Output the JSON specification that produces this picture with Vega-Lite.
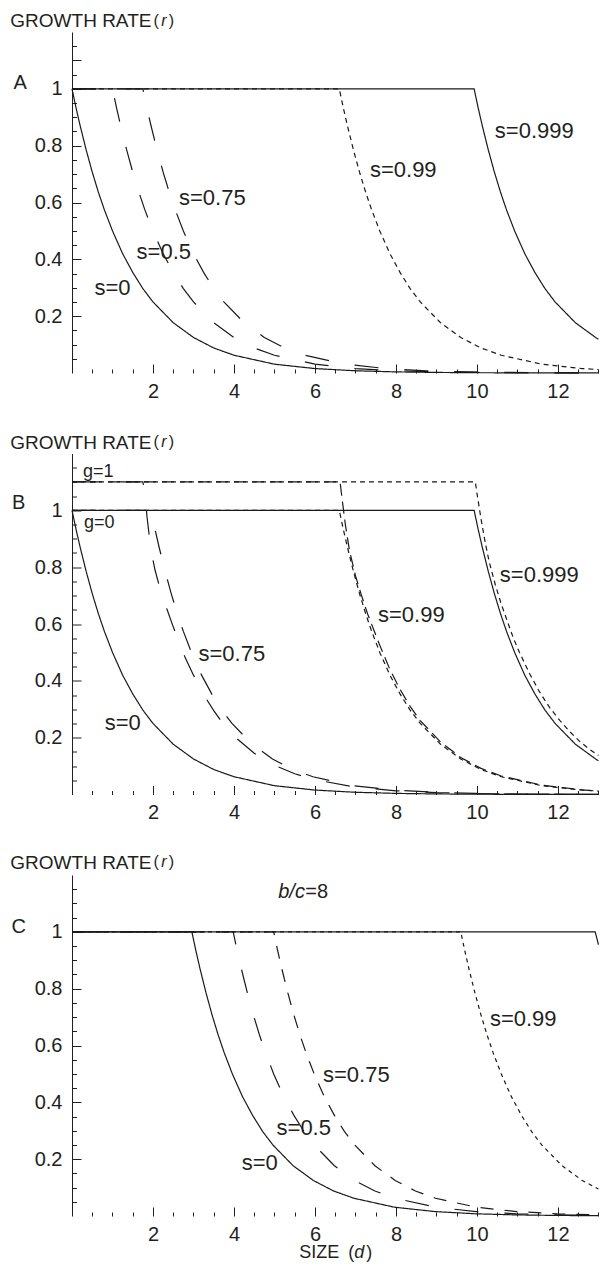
{
"$schema": "https://vega.github.io/schema/vega-lite/v6.json",
"padding": {"left": 10, "top": 12, "right": 0, "bottom": 0},
"bounds": "flush",
"spacing": 80.5,
"config": {"view": {"stroke": null}, "font": "Liberation Sans",
 "axis": {"labelFont": "Liberation Sans", "labelColor": "#231f20", "tickColor": "#231f20", "domainColor": "#231f20", "labelFontSize": 20, "grid": false, "tickWidth": 1, "domainWidth": 1, "labelOverlap": false, "labelFlush": false},
 "text": {"font": "Liberation Sans", "color": "#231f20"}},
"resolve": {"scale": {"strokeDash": "independent"}},
"datasets": {
"curves": [
{"p":"A","c":"s=0","x":0,"y":1},{"p":"A","c":"s=0","x":0.1,"y":0.933},{"p":"A","c":"s=0","x":0.2,"y":0.871},{"p":"A","c":"s=0","x":0.35,"y":0.785},{"p":"A","c":"s=0","x":0.5,"y":0.707},{"p":"A","c":"s=0","x":0.65,"y":0.637},{"p":"A","c":"s=0","x":0.8,"y":0.574},{"p":"A","c":"s=0","x":1,"y":0.5},{"p":"A","c":"s=0","x":1.25,"y":0.42},{"p":"A","c":"s=0","x":1.5,"y":0.354},{"p":"A","c":"s=0","x":1.75,"y":0.297},{"p":"A","c":"s=0","x":2,"y":0.25},{"p":"A","c":"s=0","x":2.5,"y":0.177},{"p":"A","c":"s=0","x":3,"y":0.125},{"p":"A","c":"s=0","x":3.5,"y":0.088},{"p":"A","c":"s=0","x":4,"y":0.0625},{"p":"A","c":"s=0","x":5,"y":0.031},{"p":"A","c":"s=0","x":6,"y":0.0156},{"p":"A","c":"s=0","x":7,"y":0.0078},{"p":"A","c":"s=0","x":8,"y":0.0039},{"p":"A","c":"s=0","x":9,"y":0.002},{"p":"A","c":"s=0","x":10,"y":0.001},{"p":"A","c":"s=0","x":11,"y":0.0005},{"p":"A","c":"s=0","x":12,"y":0.0002},{"p":"A","c":"s=0","x":13,"y":0.0001},
{"p":"A","c":"s=0.5","x":0,"y":1},{"p":"A","c":"s=0.5","x":1,"y":1},{"p":"A","c":"s=0.5","x":1.1,"y":0.933},{"p":"A","c":"s=0.5","x":1.2,"y":0.871},{"p":"A","c":"s=0.5","x":1.35,"y":0.785},{"p":"A","c":"s=0.5","x":1.5,"y":0.707},{"p":"A","c":"s=0.5","x":1.65,"y":0.637},{"p":"A","c":"s=0.5","x":1.8,"y":0.574},{"p":"A","c":"s=0.5","x":2,"y":0.5},{"p":"A","c":"s=0.5","x":2.25,"y":0.42},{"p":"A","c":"s=0.5","x":2.5,"y":0.354},{"p":"A","c":"s=0.5","x":2.75,"y":0.297},{"p":"A","c":"s=0.5","x":3,"y":0.25},{"p":"A","c":"s=0.5","x":3.5,"y":0.177},{"p":"A","c":"s=0.5","x":4,"y":0.125},{"p":"A","c":"s=0.5","x":4.5,"y":0.088},{"p":"A","c":"s=0.5","x":5,"y":0.0625},{"p":"A","c":"s=0.5","x":6,"y":0.031},{"p":"A","c":"s=0.5","x":7,"y":0.0156},{"p":"A","c":"s=0.5","x":8,"y":0.0078},{"p":"A","c":"s=0.5","x":9,"y":0.0039},{"p":"A","c":"s=0.5","x":10,"y":0.002},{"p":"A","c":"s=0.5","x":11,"y":0.001},{"p":"A","c":"s=0.5","x":13,"y":0.0003},
{"p":"A","c":"s=0.75","x":0,"y":1},{"p":"A","c":"s=0.75","x":1.75,"y":1},{"p":"A","c":"s=0.75","x":1.85,"y":0.933},{"p":"A","c":"s=0.75","x":1.95,"y":0.871},{"p":"A","c":"s=0.75","x":2.1,"y":0.785},{"p":"A","c":"s=0.75","x":2.25,"y":0.707},{"p":"A","c":"s=0.75","x":2.4,"y":0.637},{"p":"A","c":"s=0.75","x":2.55,"y":0.574},{"p":"A","c":"s=0.75","x":2.75,"y":0.5},{"p":"A","c":"s=0.75","x":3,"y":0.42},{"p":"A","c":"s=0.75","x":3.25,"y":0.354},{"p":"A","c":"s=0.75","x":3.5,"y":0.297},{"p":"A","c":"s=0.75","x":3.75,"y":0.25},{"p":"A","c":"s=0.75","x":4.25,"y":0.177},{"p":"A","c":"s=0.75","x":4.75,"y":0.125},{"p":"A","c":"s=0.75","x":5.25,"y":0.088},{"p":"A","c":"s=0.75","x":5.75,"y":0.0625},{"p":"A","c":"s=0.75","x":6.75,"y":0.031},{"p":"A","c":"s=0.75","x":7.75,"y":0.0156},{"p":"A","c":"s=0.75","x":8.75,"y":0.0078},{"p":"A","c":"s=0.75","x":9.75,"y":0.0039},{"p":"A","c":"s=0.75","x":10.75,"y":0.002},{"p":"A","c":"s=0.75","x":11.75,"y":0.001},{"p":"A","c":"s=0.75","x":13,"y":0.0004},
{"p":"A","c":"s=0.99","x":0,"y":1},{"p":"A","c":"s=0.99","x":6.6,"y":1},{"p":"A","c":"s=0.99","x":6.7,"y":0.933},{"p":"A","c":"s=0.99","x":6.8,"y":0.871},{"p":"A","c":"s=0.99","x":6.95,"y":0.785},{"p":"A","c":"s=0.99","x":7.1,"y":0.707},{"p":"A","c":"s=0.99","x":7.25,"y":0.637},{"p":"A","c":"s=0.99","x":7.4,"y":0.574},{"p":"A","c":"s=0.99","x":7.6,"y":0.5},{"p":"A","c":"s=0.99","x":7.85,"y":0.42},{"p":"A","c":"s=0.99","x":8.1,"y":0.354},{"p":"A","c":"s=0.99","x":8.35,"y":0.297},{"p":"A","c":"s=0.99","x":8.6,"y":0.25},{"p":"A","c":"s=0.99","x":9.1,"y":0.177},{"p":"A","c":"s=0.99","x":9.6,"y":0.125},{"p":"A","c":"s=0.99","x":10.1,"y":0.088},{"p":"A","c":"s=0.99","x":10.6,"y":0.0625},{"p":"A","c":"s=0.99","x":11.6,"y":0.031},{"p":"A","c":"s=0.99","x":12.6,"y":0.0156},{"p":"A","c":"s=0.99","x":13,"y":0.012},
{"p":"A","c":"s=0.999","x":0,"y":1},{"p":"A","c":"s=0.999","x":9.93,"y":1},{"p":"A","c":"s=0.999","x":10.03,"y":0.933},{"p":"A","c":"s=0.999","x":10.13,"y":0.871},{"p":"A","c":"s=0.999","x":10.28,"y":0.785},{"p":"A","c":"s=0.999","x":10.43,"y":0.707},{"p":"A","c":"s=0.999","x":10.58,"y":0.637},{"p":"A","c":"s=0.999","x":10.73,"y":0.574},{"p":"A","c":"s=0.999","x":10.93,"y":0.5},{"p":"A","c":"s=0.999","x":11.18,"y":0.42},{"p":"A","c":"s=0.999","x":11.43,"y":0.354},{"p":"A","c":"s=0.999","x":11.68,"y":0.297},{"p":"A","c":"s=0.999","x":11.93,"y":0.25},{"p":"A","c":"s=0.999","x":12.43,"y":0.177},{"p":"A","c":"s=0.999","x":12.93,"y":0.125},{"p":"A","c":"s=0.999","x":13,"y":0.119},
{"p":"B","c":"s=0","x":0,"y":1},{"p":"B","c":"s=0","x":0.1,"y":0.933},{"p":"B","c":"s=0","x":0.2,"y":0.871},{"p":"B","c":"s=0","x":0.35,"y":0.785},{"p":"B","c":"s=0","x":0.5,"y":0.707},{"p":"B","c":"s=0","x":0.65,"y":0.637},{"p":"B","c":"s=0","x":0.8,"y":0.574},{"p":"B","c":"s=0","x":1,"y":0.5},{"p":"B","c":"s=0","x":1.25,"y":0.42},{"p":"B","c":"s=0","x":1.5,"y":0.354},{"p":"B","c":"s=0","x":1.75,"y":0.297},{"p":"B","c":"s=0","x":2,"y":0.25},{"p":"B","c":"s=0","x":2.5,"y":0.177},{"p":"B","c":"s=0","x":3,"y":0.125},{"p":"B","c":"s=0","x":3.5,"y":0.088},{"p":"B","c":"s=0","x":4,"y":0.0625},{"p":"B","c":"s=0","x":5,"y":0.031},{"p":"B","c":"s=0","x":6,"y":0.0156},{"p":"B","c":"s=0","x":7,"y":0.0078},{"p":"B","c":"s=0","x":8,"y":0.0039},{"p":"B","c":"s=0","x":9,"y":0.002},{"p":"B","c":"s=0","x":10,"y":0.001},{"p":"B","c":"s=0","x":11,"y":0.0005},{"p":"B","c":"s=0","x":12,"y":0.0002},{"p":"B","c":"s=0","x":13,"y":0.0001},
{"p":"B","c":"s=0.75 g=0","x":0,"y":1},{"p":"B","c":"s=0.75 g=0","x":1.95,"y":1},{"p":"B","c":"s=0.75 g=0","x":2.05,"y":0.933},{"p":"B","c":"s=0.75 g=0","x":2.15,"y":0.871},{"p":"B","c":"s=0.75 g=0","x":2.3,"y":0.785},{"p":"B","c":"s=0.75 g=0","x":2.45,"y":0.707},{"p":"B","c":"s=0.75 g=0","x":2.6,"y":0.637},{"p":"B","c":"s=0.75 g=0","x":2.75,"y":0.574},{"p":"B","c":"s=0.75 g=0","x":2.95,"y":0.5},{"p":"B","c":"s=0.75 g=0","x":3.2,"y":0.42},{"p":"B","c":"s=0.75 g=0","x":3.45,"y":0.354},{"p":"B","c":"s=0.75 g=0","x":3.7,"y":0.297},{"p":"B","c":"s=0.75 g=0","x":3.95,"y":0.25},{"p":"B","c":"s=0.75 g=0","x":4.45,"y":0.177},{"p":"B","c":"s=0.75 g=0","x":4.95,"y":0.125},{"p":"B","c":"s=0.75 g=0","x":5.45,"y":0.088},{"p":"B","c":"s=0.75 g=0","x":5.95,"y":0.0625},{"p":"B","c":"s=0.75 g=0","x":6.95,"y":0.031},{"p":"B","c":"s=0.75 g=0","x":7.95,"y":0.0156},{"p":"B","c":"s=0.75 g=0","x":8.95,"y":0.0078},{"p":"B","c":"s=0.75 g=0","x":9.95,"y":0.0039},{"p":"B","c":"s=0.75 g=0","x":10.95,"y":0.002},{"p":"B","c":"s=0.75 g=0","x":11.95,"y":0.001},{"p":"B","c":"s=0.75 g=0","x":13,"y":0.0005},
{"p":"B","c":"s=0.75 g=1","x":0,"y":1.1},{"p":"B","c":"s=0.75 g=1","x":1.75,"y":1.1},{"p":"B","c":"s=0.75 g=1","x":1.8,"y":1.06},{"p":"B","c":"s=0.75 g=1","x":1.85,"y":0.98},{"p":"B","c":"s=0.75 g=1","x":1.95,"y":0.86},{"p":"B","c":"s=0.75 g=1","x":2.05,"y":0.79},{"p":"B","c":"s=0.75 g=1","x":2.2,"y":0.71},{"p":"B","c":"s=0.75 g=1","x":2.35,"y":0.65},{"p":"B","c":"s=0.75 g=1","x":2.5,"y":0.59},{"p":"B","c":"s=0.75 g=1","x":2.65,"y":0.535},{"p":"B","c":"s=0.75 g=1","x":2.8,"y":0.48},{"p":"B","c":"s=0.75 g=1","x":3,"y":0.42},{"p":"B","c":"s=0.75 g=1","x":3.25,"y":0.352},{"p":"B","c":"s=0.75 g=1","x":3.5,"y":0.295},{"p":"B","c":"s=0.75 g=1","x":3.75,"y":0.245},{"p":"B","c":"s=0.75 g=1","x":4,"y":0.205},{"p":"B","c":"s=0.75 g=1","x":4.5,"y":0.145},{"p":"B","c":"s=0.75 g=1","x":5,"y":0.103},{"p":"B","c":"s=0.75 g=1","x":5.5,"y":0.073},{"p":"B","c":"s=0.75 g=1","x":6,"y":0.052},{"p":"B","c":"s=0.75 g=1","x":7,"y":0.026},{"p":"B","c":"s=0.75 g=1","x":8,"y":0.013},{"p":"B","c":"s=0.75 g=1","x":9,"y":0.0065},{"p":"B","c":"s=0.75 g=1","x":10,"y":0.0033},{"p":"B","c":"s=0.75 g=1","x":11,"y":0.0016},{"p":"B","c":"s=0.75 g=1","x":13,"y":0.0004},
{"p":"B","c":"s=0.99 g=0","x":0,"y":1},{"p":"B","c":"s=0.99 g=0","x":6.6,"y":1},{"p":"B","c":"s=0.99 g=0","x":6.7,"y":0.933},{"p":"B","c":"s=0.99 g=0","x":6.8,"y":0.871},{"p":"B","c":"s=0.99 g=0","x":6.95,"y":0.785},{"p":"B","c":"s=0.99 g=0","x":7.1,"y":0.707},{"p":"B","c":"s=0.99 g=0","x":7.25,"y":0.637},{"p":"B","c":"s=0.99 g=0","x":7.4,"y":0.574},{"p":"B","c":"s=0.99 g=0","x":7.6,"y":0.5},{"p":"B","c":"s=0.99 g=0","x":7.85,"y":0.42},{"p":"B","c":"s=0.99 g=0","x":8.1,"y":0.354},{"p":"B","c":"s=0.99 g=0","x":8.35,"y":0.297},{"p":"B","c":"s=0.99 g=0","x":8.6,"y":0.25},{"p":"B","c":"s=0.99 g=0","x":9.1,"y":0.177},{"p":"B","c":"s=0.99 g=0","x":9.6,"y":0.125},{"p":"B","c":"s=0.99 g=0","x":10.1,"y":0.088},{"p":"B","c":"s=0.99 g=0","x":10.6,"y":0.0625},{"p":"B","c":"s=0.99 g=0","x":11.6,"y":0.031},{"p":"B","c":"s=0.99 g=0","x":12.6,"y":0.0156},{"p":"B","c":"s=0.99 g=0","x":13,"y":0.012},
{"p":"B","c":"s=0.99 g=1","x":0,"y":1.1},{"p":"B","c":"s=0.99 g=1","x":6.62,"y":1.1},{"p":"B","c":"s=0.99 g=1","x":6.67,"y":1.04},{"p":"B","c":"s=0.99 g=1","x":6.75,"y":0.95},{"p":"B","c":"s=0.99 g=1","x":6.85,"y":0.86},{"p":"B","c":"s=0.99 g=1","x":7,"y":0.77},{"p":"B","c":"s=0.99 g=1","x":7.15,"y":0.7},{"p":"B","c":"s=0.99 g=1","x":7.3,"y":0.635},{"p":"B","c":"s=0.99 g=1","x":7.45,"y":0.58},{"p":"B","c":"s=0.99 g=1","x":7.6,"y":0.525},{"p":"B","c":"s=0.99 g=1","x":7.85,"y":0.44},{"p":"B","c":"s=0.99 g=1","x":8.1,"y":0.37},{"p":"B","c":"s=0.99 g=1","x":8.35,"y":0.31},{"p":"B","c":"s=0.99 g=1","x":8.6,"y":0.26},{"p":"B","c":"s=0.99 g=1","x":9.1,"y":0.185},{"p":"B","c":"s=0.99 g=1","x":9.6,"y":0.13},{"p":"B","c":"s=0.99 g=1","x":10.1,"y":0.092},{"p":"B","c":"s=0.99 g=1","x":10.6,"y":0.065},{"p":"B","c":"s=0.99 g=1","x":11.6,"y":0.033},{"p":"B","c":"s=0.99 g=1","x":12.6,"y":0.016},{"p":"B","c":"s=0.99 g=1","x":13,"y":0.012},
{"p":"B","c":"s=0.999 g=0","x":0,"y":1},{"p":"B","c":"s=0.999 g=0","x":9.93,"y":1},{"p":"B","c":"s=0.999 g=0","x":10.03,"y":0.933},{"p":"B","c":"s=0.999 g=0","x":10.13,"y":0.871},{"p":"B","c":"s=0.999 g=0","x":10.28,"y":0.785},{"p":"B","c":"s=0.999 g=0","x":10.43,"y":0.707},{"p":"B","c":"s=0.999 g=0","x":10.58,"y":0.637},{"p":"B","c":"s=0.999 g=0","x":10.73,"y":0.574},{"p":"B","c":"s=0.999 g=0","x":10.93,"y":0.5},{"p":"B","c":"s=0.999 g=0","x":11.18,"y":0.42},{"p":"B","c":"s=0.999 g=0","x":11.43,"y":0.354},{"p":"B","c":"s=0.999 g=0","x":11.68,"y":0.297},{"p":"B","c":"s=0.999 g=0","x":11.93,"y":0.25},{"p":"B","c":"s=0.999 g=0","x":12.43,"y":0.177},{"p":"B","c":"s=0.999 g=0","x":12.93,"y":0.125},{"p":"B","c":"s=0.999 g=0","x":13,"y":0.119},
{"p":"B","c":"s=0.999 g=1","x":0,"y":1.1},{"p":"B","c":"s=0.999 g=1","x":9.96,"y":1.1},{"p":"B","c":"s=0.999 g=1","x":10,"y":1.06},{"p":"B","c":"s=0.999 g=1","x":10.1,"y":0.97},{"p":"B","c":"s=0.999 g=1","x":10.2,"y":0.89},{"p":"B","c":"s=0.999 g=1","x":10.3,"y":0.82},{"p":"B","c":"s=0.999 g=1","x":10.45,"y":0.74},{"p":"B","c":"s=0.999 g=1","x":10.6,"y":0.67},{"p":"B","c":"s=0.999 g=1","x":10.75,"y":0.61},{"p":"B","c":"s=0.999 g=1","x":10.9,"y":0.55},{"p":"B","c":"s=0.999 g=1","x":11.05,"y":0.5},{"p":"B","c":"s=0.999 g=1","x":11.3,"y":0.425},{"p":"B","c":"s=0.999 g=1","x":11.55,"y":0.36},{"p":"B","c":"s=0.999 g=1","x":11.8,"y":0.305},{"p":"B","c":"s=0.999 g=1","x":12.05,"y":0.26},{"p":"B","c":"s=0.999 g=1","x":12.3,"y":0.22},{"p":"B","c":"s=0.999 g=1","x":12.55,"y":0.185},{"p":"B","c":"s=0.999 g=1","x":12.8,"y":0.157},{"p":"B","c":"s=0.999 g=1","x":13,"y":0.137},
{"p":"C","c":"s=0","x":0,"y":1},{"p":"C","c":"s=0","x":2.96,"y":1},{"p":"C","c":"s=0","x":3.06,"y":0.933},{"p":"C","c":"s=0","x":3.16,"y":0.871},{"p":"C","c":"s=0","x":3.31,"y":0.785},{"p":"C","c":"s=0","x":3.46,"y":0.707},{"p":"C","c":"s=0","x":3.61,"y":0.637},{"p":"C","c":"s=0","x":3.76,"y":0.574},{"p":"C","c":"s=0","x":3.96,"y":0.5},{"p":"C","c":"s=0","x":4.21,"y":0.42},{"p":"C","c":"s=0","x":4.46,"y":0.354},{"p":"C","c":"s=0","x":4.71,"y":0.297},{"p":"C","c":"s=0","x":4.96,"y":0.25},{"p":"C","c":"s=0","x":5.46,"y":0.177},{"p":"C","c":"s=0","x":5.96,"y":0.125},{"p":"C","c":"s=0","x":6.46,"y":0.088},{"p":"C","c":"s=0","x":6.96,"y":0.0625},{"p":"C","c":"s=0","x":7.96,"y":0.031},{"p":"C","c":"s=0","x":8.96,"y":0.0156},{"p":"C","c":"s=0","x":9.96,"y":0.0078},{"p":"C","c":"s=0","x":10.96,"y":0.0039},{"p":"C","c":"s=0","x":11.96,"y":0.002},{"p":"C","c":"s=0","x":13,"y":0.001},
{"p":"C","c":"s=0.5","x":0,"y":1},{"p":"C","c":"s=0.5","x":3.98,"y":1},{"p":"C","c":"s=0.5","x":4.08,"y":0.933},{"p":"C","c":"s=0.5","x":4.18,"y":0.871},{"p":"C","c":"s=0.5","x":4.33,"y":0.785},{"p":"C","c":"s=0.5","x":4.48,"y":0.707},{"p":"C","c":"s=0.5","x":4.63,"y":0.637},{"p":"C","c":"s=0.5","x":4.78,"y":0.574},{"p":"C","c":"s=0.5","x":4.98,"y":0.5},{"p":"C","c":"s=0.5","x":5.23,"y":0.42},{"p":"C","c":"s=0.5","x":5.48,"y":0.354},{"p":"C","c":"s=0.5","x":5.73,"y":0.297},{"p":"C","c":"s=0.5","x":5.98,"y":0.25},{"p":"C","c":"s=0.5","x":6.48,"y":0.177},{"p":"C","c":"s=0.5","x":6.98,"y":0.125},{"p":"C","c":"s=0.5","x":7.48,"y":0.088},{"p":"C","c":"s=0.5","x":7.98,"y":0.0625},{"p":"C","c":"s=0.5","x":8.98,"y":0.031},{"p":"C","c":"s=0.5","x":9.98,"y":0.0156},{"p":"C","c":"s=0.5","x":10.98,"y":0.0078},{"p":"C","c":"s=0.5","x":11.98,"y":0.0039},{"p":"C","c":"s=0.5","x":13,"y":0.0019},
{"p":"C","c":"s=0.75","x":0,"y":1},{"p":"C","c":"s=0.75","x":4.98,"y":1},{"p":"C","c":"s=0.75","x":5.08,"y":0.933},{"p":"C","c":"s=0.75","x":5.18,"y":0.871},{"p":"C","c":"s=0.75","x":5.33,"y":0.785},{"p":"C","c":"s=0.75","x":5.48,"y":0.707},{"p":"C","c":"s=0.75","x":5.63,"y":0.637},{"p":"C","c":"s=0.75","x":5.78,"y":0.574},{"p":"C","c":"s=0.75","x":5.98,"y":0.5},{"p":"C","c":"s=0.75","x":6.23,"y":0.42},{"p":"C","c":"s=0.75","x":6.48,"y":0.354},{"p":"C","c":"s=0.75","x":6.73,"y":0.297},{"p":"C","c":"s=0.75","x":6.98,"y":0.25},{"p":"C","c":"s=0.75","x":7.48,"y":0.177},{"p":"C","c":"s=0.75","x":7.98,"y":0.125},{"p":"C","c":"s=0.75","x":8.48,"y":0.088},{"p":"C","c":"s=0.75","x":8.98,"y":0.0625},{"p":"C","c":"s=0.75","x":9.98,"y":0.031},{"p":"C","c":"s=0.75","x":10.98,"y":0.0156},{"p":"C","c":"s=0.75","x":11.98,"y":0.0078},{"p":"C","c":"s=0.75","x":13,"y":0.0038},
{"p":"C","c":"s=0.99","x":0,"y":1},{"p":"C","c":"s=0.99","x":9.6,"y":1},{"p":"C","c":"s=0.99","x":9.7,"y":0.933},{"p":"C","c":"s=0.99","x":9.8,"y":0.871},{"p":"C","c":"s=0.99","x":9.95,"y":0.785},{"p":"C","c":"s=0.99","x":10.1,"y":0.707},{"p":"C","c":"s=0.99","x":10.25,"y":0.637},{"p":"C","c":"s=0.99","x":10.4,"y":0.574},{"p":"C","c":"s=0.99","x":10.6,"y":0.5},{"p":"C","c":"s=0.99","x":10.85,"y":0.42},{"p":"C","c":"s=0.99","x":11.1,"y":0.354},{"p":"C","c":"s=0.99","x":11.35,"y":0.297},{"p":"C","c":"s=0.99","x":11.6,"y":0.25},{"p":"C","c":"s=0.99","x":12.1,"y":0.177},{"p":"C","c":"s=0.99","x":12.6,"y":0.125},{"p":"C","c":"s=0.99","x":13,"y":0.095},
{"p":"C","c":"s=0.999","x":0,"y":1},{"p":"C","c":"s=0.999","x":12.92,"y":1},{"p":"C","c":"s=0.999","x":13,"y":0.955}
],
"labels": [
{"p":"A","k":"ylab","t":"(","x":2.081,"y":1.24},{"p":"A","k":"ylab","t":")","x":2.452,"y":1.24},
{"p":"A","k":"letter","t":"A","x":-1.277,"y":1.022},
{"p":"A","k":"curve","t":"s=0.999","x":11.415,"y":0.85},{"p":"A","k":"curve","t":"s=0.99","x":8.18,"y":0.715},{"p":"A","k":"curve","t":"s=0.75","x":3.464,"y":0.616},{"p":"A","k":"curve","t":"s=0.5","x":2.267,"y":0.427},{"p":"A","k":"curve","t":"s=0","x":1.0,"y":0.299},
{"p":"B","k":"ylab","t":"(","x":2.081,"y":1.239},{"p":"B","k":"ylab","t":")","x":2.452,"y":1.239},
{"p":"B","k":"letter","t":"B","x":-1.314,"y":1.025},
{"p":"B","k":"g","t":"g=1","x":0.649,"y":1.134},{"p":"B","k":"g","t":"g=0","x":0.674,"y":0.954},
{"p":"B","k":"curve","t":"s=0.999","x":11.54,"y":0.771},{"p":"B","k":"curve","t":"s=0.99","x":8.378,"y":0.63},{"p":"B","k":"curve","t":"s=0.75","x":3.946,"y":0.496},{"p":"B","k":"curve","t":"s=0","x":1.254,"y":0.25},
{"p":"C","k":"ylab","t":"(","x":2.081,"y":1.245},{"p":"C","k":"ylab","t":")","x":2.452,"y":1.245},
{"p":"C","k":"letter","t":"C","x":-1.314,"y":1.017},
{"p":"C","k":"curve","t":"s=0.99","x":11.143,"y":0.693},{"p":"C","k":"curve","t":"s=0.75","x":7.02,"y":0.495},{"p":"C","k":"curve","t":"s=0.5","x":5.723,"y":0.309},{"p":"C","k":"curve","t":"s=0","x":4.637,"y":0.186},
{"p":"C","k":"xlab","t":"(","x":6.896,"y":-0.131},{"p":"C","k":"xlab","t":")","x":7.341,"y":-0.131}
],
"leftlabels": [
{"p":"A","k":"title","t":"GROWTH RATE","x":-1.523,"y":1.237},
{"p":"B","k":"title","t":"GROWTH RATE","x":-1.523,"y":1.236},
{"p":"C","k":"title","t":"GROWTH RATE","x":-1.523,"y":1.242},
{"p":"C","k":"ratio","t":"=8","x":5.76,"y":1.14},
{"p":"C","k":"xlab","t":"SIZE","x":5.612,"y":-0.131}
],
"italiclabels": [
{"p":"A","k":"ylab","t":"r","x":2.267,"y":1.24},
{"p":"B","k":"ylab","t":"r","x":2.267,"y":1.239},
{"p":"C","k":"ylab","t":"r","x":2.267,"y":1.245},
{"p":"C","k":"ratio","t":"b/c","x":5.422,"y":1.14},
{"p":"C","k":"xlab","t":"d","x":7.094,"y":-0.131}
]
},
"vconcat": [
{
"width": 530.5, "height": 341,
"resolve": {"axis": {"x": "independent", "y": "independent"}},
"layer": [
{"data": {"name": "curves"}, "transform": [{"filter": "datum.p === 'A'"}],
 "mark": {"type": "line", "strokeWidth": 1.2, "color": "#1a1a1a"},
 "encoding": {
  "x": {"field": "x", "type": "quantitative", "scale": {"domain": [0, 13.1], "nice": false, "zero": false}, "axis": {"orient": "bottom", "values": [2,4,6,8,10,12], "tickSize": -9, "labelPadding": 17, "domain": false, "title": null}},
  "y": {"field": "y", "type": "quantitative", "scale": {"domain": [0, 1.2], "nice": false, "zero": false}, "axis": {"orient": "left", "values": [0.2,0.4,0.6,0.8,1,1.1], "labelExpr": "datum.value === 1 ? '1' : datum.value > 1 ? '' : format(datum.value, '.1f')", "tickSize": -9, "labelPadding": 19, "domain": true, "title": null}},
  "strokeDash": {"field": "c", "type": "nominal", "scale": {"domain": ["s=0","s=0.5","s=0.75","s=0.99","s=0.999"], "range": [[1,0],[24,26],[24,26],[5,4],[1,0]]}, "legend": null}
 }},
{"mark": {"type": "rule", "color": "#555555", "strokeWidth": 1.5},
 "encoding": {"x": {"datum": -0.36, "type": "quantitative", "scale": {"domain": [0, 13.1], "nice": false, "zero": false}, "axis": null}, "x2": {"datum": 13.14}, "y": {"datum": 0, "type": "quantitative", "scale": {"domain": [0, 1.2], "nice": false, "zero": false}, "axis": null}}},
{"data": {"name": "labels"}, "transform": [{"filter": "datum.p === 'A'"}],
 "mark": {"type": "text", "align": "center", "baseline": "middle"},
 "encoding": {
  "x": {"field": "x", "type": "quantitative", "scale": {"domain": [0, 13.1], "nice": false, "zero": false}, "axis": {"orient": "bottom", "values": [0.5,1,1.5,2.5,3,3.5,4.5,5,5.5,6.5,7,7.5,8.5,9,9.5,10.5,11,11.5,12.5,13], "tickSize": -4, "labels": false, "domain": false, "title": null}},
  "y": {"field": "y", "type": "quantitative", "scale": {"domain": [0, 1.2], "nice": false, "zero": false}, "axis": {"orient": "left", "values": [0.05,0.1,0.15,0.25,0.3,0.35,0.45,0.5,0.55,0.65,0.7,0.75,0.85,0.9,0.95,1.05,1.15], "tickSize": -4.5, "labels": false, "domain": false, "title": null}},
  "text": {"field": "t"},
  "size": {"field": "k", "type": "nominal", "scale": {"type": "ordinal", "domain": ["curve","g","letter","title","ylab","xlab","ratio"], "range": [22,18,20,19,16,18,20]}, "legend": null}
 }},
{"data": {"name": "leftlabels"}, "transform": [{"filter": "datum.p === 'A'"}],
 "mark": {"type": "text", "align": "left", "baseline": "middle"},
 "encoding": {
  "x": {"field": "x", "type": "quantitative", "scale": {"domain": [0, 13.1], "nice": false, "zero": false}, "axis": null},
  "y": {"field": "y", "type": "quantitative", "scale": {"domain": [0, 1.2], "nice": false, "zero": false}, "axis": null},
  "text": {"field": "t"},
  "size": {"field": "k", "type": "nominal", "scale": {"type": "ordinal", "domain": ["curve","g","letter","title","ylab","xlab","ratio"], "range": [22,18,20,19,16,18,20]}, "legend": null}
 }},
{"data": {"name": "italiclabels"}, "transform": [{"filter": "datum.p === 'A'"}],
 "mark": {"type": "text", "align": "center", "baseline": "middle", "fontStyle": "italic"},
 "encoding": {
  "x": {"field": "x", "type": "quantitative", "scale": {"domain": [0, 13.1], "nice": false, "zero": false}, "axis": null},
  "y": {"field": "y", "type": "quantitative", "scale": {"domain": [0, 1.2], "nice": false, "zero": false}, "axis": null},
  "text": {"field": "t"},
  "size": {"field": "k", "type": "nominal", "scale": {"type": "ordinal", "domain": ["curve","g","letter","title","ylab","xlab","ratio"], "range": [22,18,20,19,16,18,20]}, "legend": null}
 }}
]
},
{
"width": 530.5, "height": 341,
"resolve": {"axis": {"x": "independent", "y": "independent"}},
"layer": [
{"data": {"name": "curves"}, "transform": [{"filter": "datum.p === 'B'"}],
 "mark": {"type": "line", "strokeWidth": 1.2, "color": "#1a1a1a"},
 "encoding": {
  "x": {"field": "x", "type": "quantitative", "scale": {"domain": [0, 13.1], "nice": false, "zero": false}, "axis": {"orient": "bottom", "values": [2,4,6,8,10,12], "tickSize": -9, "labelPadding": 17, "domain": false, "title": null}},
  "y": {"field": "y", "type": "quantitative", "scale": {"domain": [0, 1.2], "nice": false, "zero": false}, "axis": {"orient": "left", "values": [0.2,0.4,0.6,0.8,1], "labelExpr": "datum.value === 1 ? '1' : format(datum.value, '.1f')", "tickSize": -9, "labelPadding": 19, "domain": true, "title": null}},
  "strokeDash": {"field": "c", "type": "nominal", "scale": {"domain": ["s=0","s=0.75 g=0","s=0.75 g=1","s=0.99 g=0","s=0.99 g=1","s=0.999 g=0","s=0.999 g=1"], "range": [[1,0],[24,26],[24,26],[5,4],[12,6],[1,0],[5,4]]}, "legend": null}
 }},
{"mark": {"type": "rule", "color": "#555555", "strokeWidth": 1.5},
 "encoding": {"x": {"datum": -0.36, "type": "quantitative", "scale": {"domain": [0, 13.1], "nice": false, "zero": false}, "axis": null}, "x2": {"datum": 13.14}, "y": {"datum": 0, "type": "quantitative", "scale": {"domain": [0, 1.2], "nice": false, "zero": false}, "axis": null}}},
{"data": {"name": "labels"}, "transform": [{"filter": "datum.p === 'B'"}],
 "mark": {"type": "text", "align": "center", "baseline": "middle"},
 "encoding": {
  "x": {"field": "x", "type": "quantitative", "scale": {"domain": [0, 13.1], "nice": false, "zero": false}, "axis": {"orient": "bottom", "values": [0.5,1,1.5,2.5,3,3.5,4.5,5,5.5,6.5,7,7.5,8.5,9,9.5,10.5,11,11.5,12.5,13], "tickSize": -4, "labels": false, "domain": false, "title": null}},
  "y": {"field": "y", "type": "quantitative", "scale": {"domain": [0, 1.2], "nice": false, "zero": false}, "axis": {"orient": "left", "values": [0.05,0.1,0.15,0.25,0.3,0.35,0.45,0.5,0.55,0.65,0.7,0.75,0.85,0.9,0.95,1.05,1.1,1.15], "tickSize": -4.5, "labels": false, "domain": false, "title": null}},
  "text": {"field": "t"},
  "size": {"field": "k", "type": "nominal", "scale": {"type": "ordinal", "domain": ["curve","g","letter","title","ylab","xlab","ratio"], "range": [22,18,20,19,16,18,20]}, "legend": null}
 }},
{"data": {"name": "leftlabels"}, "transform": [{"filter": "datum.p === 'B'"}],
 "mark": {"type": "text", "align": "left", "baseline": "middle"},
 "encoding": {
  "x": {"field": "x", "type": "quantitative", "scale": {"domain": [0, 13.1], "nice": false, "zero": false}, "axis": null},
  "y": {"field": "y", "type": "quantitative", "scale": {"domain": [0, 1.2], "nice": false, "zero": false}, "axis": null},
  "text": {"field": "t"},
  "size": {"field": "k", "type": "nominal", "scale": {"type": "ordinal", "domain": ["curve","g","letter","title","ylab","xlab","ratio"], "range": [22,18,20,19,16,18,20]}, "legend": null}
 }},
{"data": {"name": "italiclabels"}, "transform": [{"filter": "datum.p === 'B'"}],
 "mark": {"type": "text", "align": "center", "baseline": "middle", "fontStyle": "italic"},
 "encoding": {
  "x": {"field": "x", "type": "quantitative", "scale": {"domain": [0, 13.1], "nice": false, "zero": false}, "axis": null},
  "y": {"field": "y", "type": "quantitative", "scale": {"domain": [0, 1.2], "nice": false, "zero": false}, "axis": null},
  "text": {"field": "t"},
  "size": {"field": "k", "type": "nominal", "scale": {"type": "ordinal", "domain": ["curve","g","letter","title","ylab","xlab","ratio"], "range": [22,18,20,19,16,18,20]}, "legend": null}
 }}
]
},
{
"width": 530.5, "height": 341,
"resolve": {"axis": {"x": "independent", "y": "independent"}},
"layer": [
{"data": {"name": "curves"}, "transform": [{"filter": "datum.p === 'C'"}],
 "mark": {"type": "line", "strokeWidth": 1.2, "color": "#1a1a1a"},
 "encoding": {
  "x": {"field": "x", "type": "quantitative", "scale": {"domain": [0, 13.1], "nice": false, "zero": false}, "axis": {"orient": "bottom", "values": [2,4,6,8,10,12], "tickSize": -9, "labelPadding": 17, "domain": false, "title": null}},
  "y": {"field": "y", "type": "quantitative", "scale": {"domain": [0, 1.2], "nice": false, "zero": false}, "axis": {"orient": "left", "values": [0.2,0.4,0.6,0.8,1], "labelExpr": "datum.value === 1 ? '1' : format(datum.value, '.1f')", "tickSize": -9, "labelPadding": 19, "domain": true, "title": null}},
  "strokeDash": {"field": "c", "type": "nominal", "scale": {"domain": ["s=0","s=0.5","s=0.75","s=0.99","s=0.999"], "range": [[1,0],[24,26],[13,11],[4,4],[1,0]]}, "legend": null}
 }},
{"mark": {"type": "rule", "color": "#555555", "strokeWidth": 1.5},
 "encoding": {"x": {"datum": -0.36, "type": "quantitative", "scale": {"domain": [0, 13.1], "nice": false, "zero": false}, "axis": null}, "x2": {"datum": 13.14}, "y": {"datum": 0, "type": "quantitative", "scale": {"domain": [0, 1.2], "nice": false, "zero": false}, "axis": null}}},
{"data": {"name": "labels"}, "transform": [{"filter": "datum.p === 'C'"}],
 "mark": {"type": "text", "align": "center", "baseline": "middle"},
 "encoding": {
  "x": {"field": "x", "type": "quantitative", "scale": {"domain": [0, 13.1], "nice": false, "zero": false}, "axis": {"orient": "bottom", "values": [0.5,1,1.5,2.5,3,3.5,4.5,5,5.5,6.5,7,7.5,8.5,9,9.5,10.5,11,11.5,12.5,13], "tickSize": -4, "labels": false, "domain": false, "title": null}},
  "y": {"field": "y", "type": "quantitative", "scale": {"domain": [0, 1.2], "nice": false, "zero": false}, "axis": {"orient": "left", "values": [0.05,0.1,0.15,0.25,0.3,0.35,0.45,0.5,0.55,0.65,0.7,0.75,0.85,0.9,0.95,1.05,1.1,1.15], "tickSize": -4.5, "labels": false, "domain": false, "title": null}},
  "text": {"field": "t"},
  "size": {"field": "k", "type": "nominal", "scale": {"type": "ordinal", "domain": ["curve","g","letter","title","ylab","xlab","ratio"], "range": [22,18,20,19,16,18,20]}, "legend": null}
 }},
{"data": {"name": "leftlabels"}, "transform": [{"filter": "datum.p === 'C'"}],
 "mark": {"type": "text", "align": "left", "baseline": "middle"},
 "encoding": {
  "x": {"field": "x", "type": "quantitative", "scale": {"domain": [0, 13.1], "nice": false, "zero": false}, "axis": null},
  "y": {"field": "y", "type": "quantitative", "scale": {"domain": [0, 1.2], "nice": false, "zero": false}, "axis": null},
  "text": {"field": "t"},
  "size": {"field": "k", "type": "nominal", "scale": {"type": "ordinal", "domain": ["curve","g","letter","title","ylab","xlab","ratio"], "range": [22,18,20,19,16,18,20]}, "legend": null}
 }},
{"data": {"name": "italiclabels"}, "transform": [{"filter": "datum.p === 'C'"}],
 "mark": {"type": "text", "align": "center", "baseline": "middle", "fontStyle": "italic"},
 "encoding": {
  "x": {"field": "x", "type": "quantitative", "scale": {"domain": [0, 13.1], "nice": false, "zero": false}, "axis": null},
  "y": {"field": "y", "type": "quantitative", "scale": {"domain": [0, 1.2], "nice": false, "zero": false}, "axis": null},
  "text": {"field": "t"},
  "size": {"field": "k", "type": "nominal", "scale": {"type": "ordinal", "domain": ["curve","g","letter","title","ylab","xlab","ratio"], "range": [22,18,20,19,16,18,20]}, "legend": null}
 }}
]
}
]
}
